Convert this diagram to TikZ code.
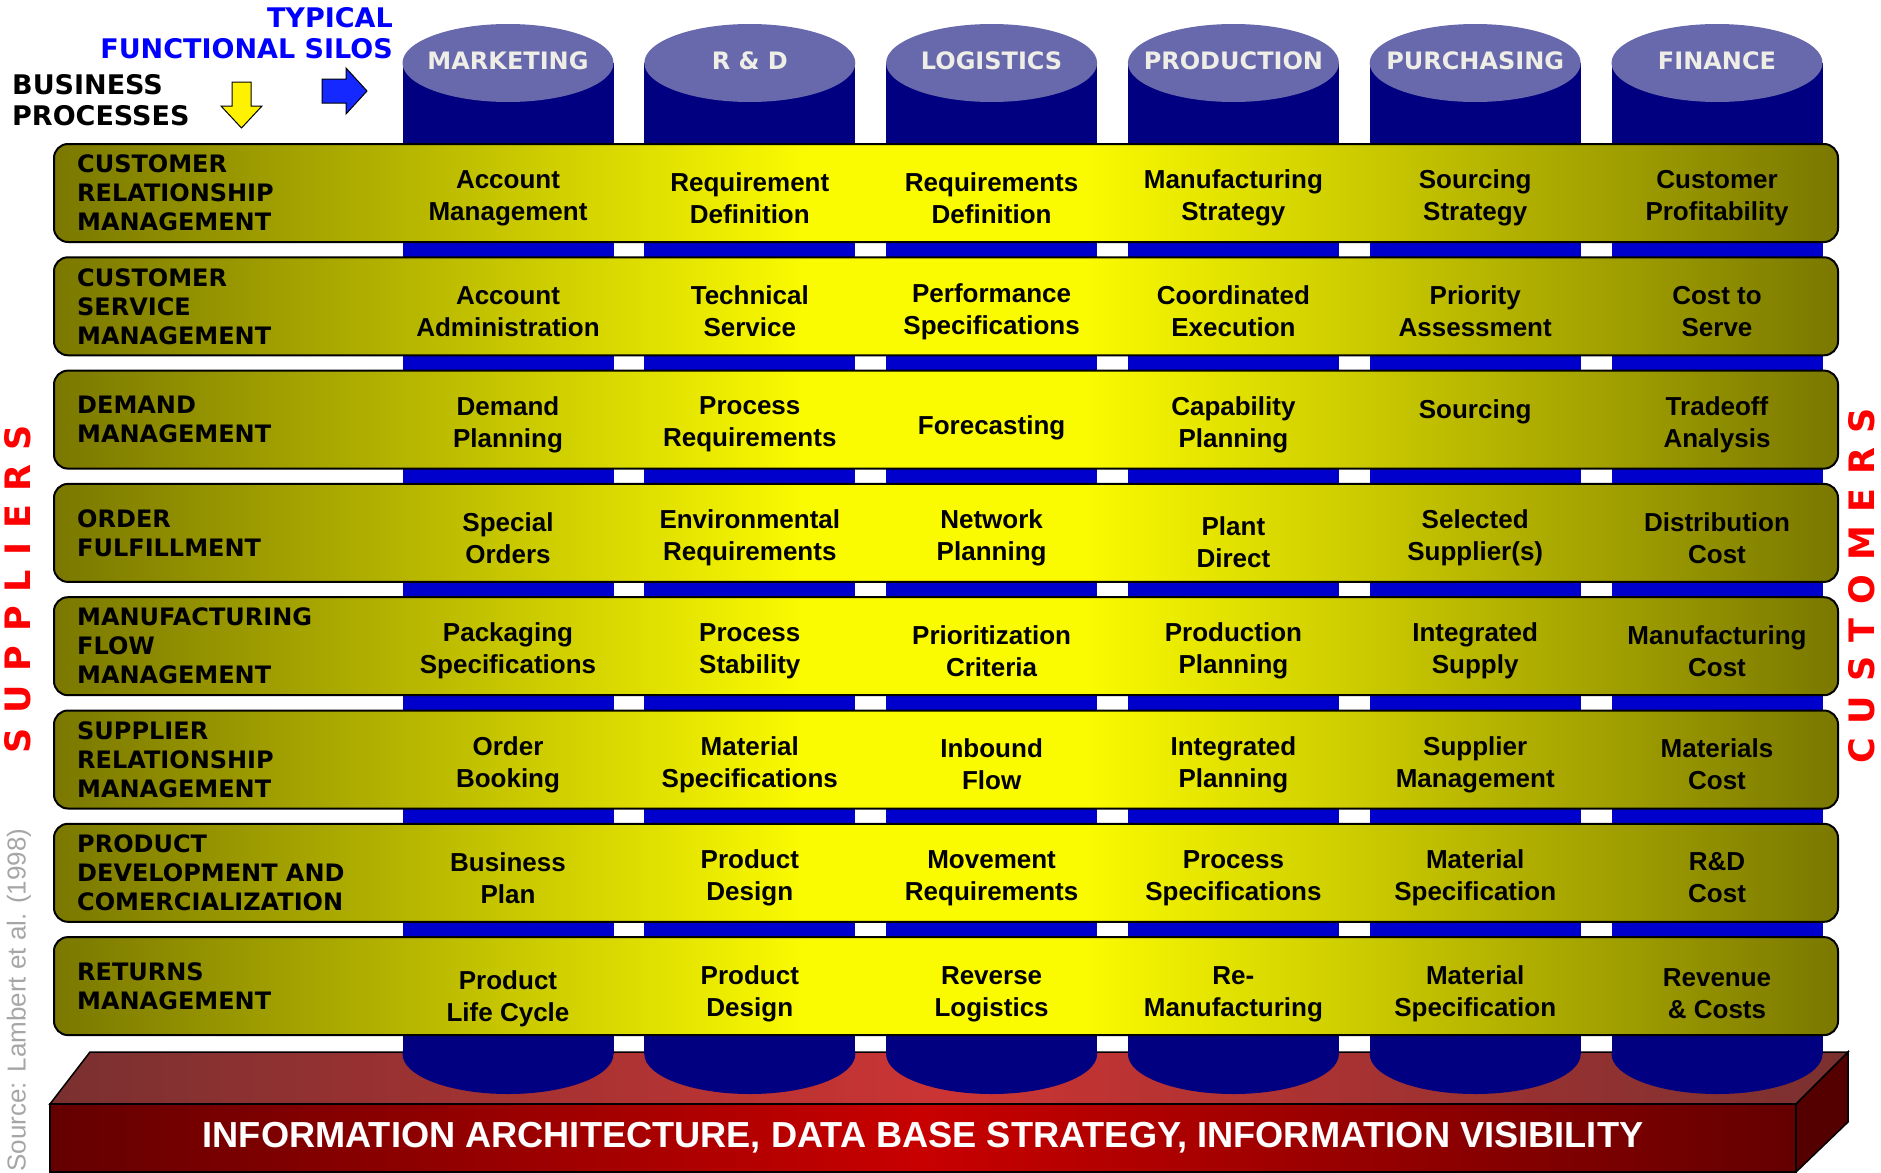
\documentclass[tikz,border=0pt]{standalone}
\usepackage{fontspec}
\setmainfont{Liberation Sans}
\newfontfamily\heavyfont{DejaVu Sans}
\usepackage{tikz}
\usetikzlibrary{positioning}
\definecolor{silonavy}{RGB}{0,0,128}
\definecolor{gapblue}{RGB}{0,0,204}
\definecolor{silotop}{RGB}{104,104,172}
\definecolor{siloink}{RGB}{238,238,230}
\definecolor{bandolive}{RGB}{122,120,0}
\definecolor{bandyellow}{RGB}{250,250,0}
\definecolor{slabdark}{RGB}{100,0,0}
\definecolor{slablight}{RGB}{200,0,0}
\definecolor{slabtopdark}{RGB}{122,48,48}
\definecolor{slabtoplight}{RGB}{204,52,52}
\definecolor{slabside}{RGB}{85,0,0}
\definecolor{srcgray}{RGB}{166,166,166}
\definecolor{arrowblue}{RGB}{20,40,255}
\pgfdeclarehorizontalshading{bandshade}{100bp}{color(0bp)=(bandolive);
  color(25bp)=(bandolive); color(46bp)=(bandyellow); color(54bp)=(bandyellow);
  color(75bp)=(bandolive); color(100bp)=(bandolive)}
\pgfdeclarehorizontalshading{slabshade}{100bp}{color(0bp)=(slabdark);
  color(25bp)=(slabdark); color(50bp)=(slablight);
  color(75bp)=(slabdark); color(100bp)=(slabdark)}
\pgfdeclarehorizontalshading{slabtopshade}{100bp}{color(0bp)=(slabtopdark);
  color(25bp)=(slabtopdark); color(50bp)=(slabtoplight);
  color(75bp)=(slabtopdark); color(100bp)=(slabtopdark)}
\tikzset{
  silo_t/.style = {inner sep=0pt, text=siloink,
    font=\heavyfont\bfseries\fontsize{24}{29}\selectfont},% silo title
  band_n/.style = {draw=black, line width=2pt, rounded corners=14pt,
    minimum width=1784pt, minimum height=98pt, inner sep=0pt,
    shade, shading=bandshade},% bande de processus
  proc_t/.style = {inner sep=0pt, align=left,
    font=\heavyfont\bfseries\fontsize{24}{29}\selectfont},% nom du processus
  cell_t/.style = {inner sep=0pt, align=center, yshift=-5pt,
    font=\bfseries\fontsize{26}{32}\selectfont},% activite
  head_t/.style = {inner sep=0pt,
    font=\heavyfont\bfseries\fontsize{27}{31}\selectfont},
  side_t/.style = {inner sep=0pt, rotate=90, text=red,
    font=\heavyfont\bfseries\fontsize{35}{35}\selectfont},
  slab_t/.style = {inner sep=0pt, text=white,
    font=\bfseries\fontsize{36.2}{40}\selectfont}
}

\begin{document}
\begin{tikzpicture}[x=1pt,y=-1pt]
\useasboundingbox (0,0) rectangle (1881,1172);

% socle rouge
\filldraw[slabside, draw=black, line width=1.5pt]
  (1796,1104) -- (1848,1052) -- (1848,1122) -- (1796,1172) -- cycle;
\shadedraw[shading=slabtopshade, draw=black, line width=1.5pt]
  (50,1104) -- (90,1052) -- (1848,1052) -- (1796,1104) -- cycle;
\shadedraw[shading=slabshade, draw=black, line width=1.5pt]
  (50,1104) rectangle (1796,1172);

% silos
\foreach \x in {508,749.8,991.6,1233.4,1475.2,1717}{
  \fill[silonavy] (\x-105.5,63) rectangle (\x+105.5,1054);
  \fill[silonavy] (\x,1054) ellipse [x radius=105.5pt, y radius=40pt];
  \fill[gapblue] (\x-105.5,242) rectangle (\x+105.5,937);
  \fill[silotop] (\x,63) ellipse [x radius=105.5pt, y radius=39pt];
}
\node[silo_t] (mkt) at (508,61) {MARKETING};
\node[silo_t] (rnd) at (749.8,61) {R \& D};
\node[silo_t] (log) at (991.6,61) {LOGISTICS};
\node[silo_t] (prod) at (1233.4,61) {PRODUCTION};
\node[silo_t] (pur) at (1475.2,61) {PURCHASING};
\node[silo_t] (fin) at (1717,61) {FINANCE};

% bandes
\node[band_n] (crm) at (946,193) {};
\node[band_n] (csm) at (946,306.3) {};
\node[band_n] (dem) at (946,419.6) {};
\node[band_n] (ofl) at (946,532.9) {};
\node[band_n] (mfm) at (946,646.2) {};
\node[band_n] (srm) at (946,759.5) {};
\node[band_n] (pdc) at (946,872.8) {};
\node[band_n] (ret) at (946,986.1) {};

\node[proc_t, right=24pt of crm.west] (crm_t) {CUSTOMER\\RELATIONSHIP\\MANAGEMENT};
\node[proc_t, right=24pt of csm.west] (csm_t) {CUSTOMER\\SERVICE\\MANAGEMENT};
\node[proc_t, right=24pt of dem.west] (dem_t) {DEMAND\\MANAGEMENT};
\node[proc_t, right=24pt of ofl.west] (ofl_t) {ORDER\\FULFILLMENT};
\node[proc_t, right=24pt of mfm.west] (mfm_t) {MANUFACTURING\\FLOW\\MANAGEMENT};
\node[proc_t, right=24pt of srm.west] (srm_t) {SUPPLIER\\RELATIONSHIP\\MANAGEMENT};
\node[proc_t, right=24pt of pdc.west] (pdc_t) {PRODUCT\\DEVELOPMENT AND\\COMERCIALIZATION};
\node[proc_t, right=24pt of ret.west] (ret_t) {RETURNS\\MANAGEMENT};

% activites
\node[cell_t] (crm_mkt) at (mkt |- crm) {Account\\Management};
\node[cell_t] (crm_rnd) at (rnd |- crm) {Requirement\\Definition};
\node[cell_t] (crm_log) at (log |- crm) {Requirements\\Definition};
\node[cell_t] (crm_prod) at (prod |- crm) {Manufacturing\\Strategy};
\node[cell_t] (crm_pur) at (pur |- crm) {Sourcing\\Strategy};
\node[cell_t] (crm_fin) at (fin |- crm) {Customer\\Profitability};

\node[cell_t] (csm_mkt) at (mkt |- csm) {Account\\Administration};
\node[cell_t] (csm_rnd) at (rnd |- csm) {Technical\\Service};
\node[cell_t] (csm_log) at (log |- csm) {Performance\\Specifications};
\node[cell_t] (csm_prod) at (prod |- csm) {Coordinated\\Execution};
\node[cell_t] (csm_pur) at (pur |- csm) {Priority\\Assessment};
\node[cell_t] (csm_fin) at (fin |- csm) {Cost to\\Serve};

\node[cell_t] (dem_mkt) at (mkt |- dem) {Demand\\Planning};
\node[cell_t] (dem_rnd) at (rnd |- dem) {Process\\Requirements};
\node[cell_t, yshift=-3pt] (dem_log) at (log |- dem) {Forecasting};
\node[cell_t] (dem_prod) at (prod |- dem) {Capability\\Planning};
\node[cell_t, yshift=13pt] (dem_pur) at (pur |- dem) {Sourcing};
\node[cell_t] (dem_fin) at (fin |- dem) {Tradeoff\\Analysis};

\node[cell_t] (ofl_mkt) at (mkt |- ofl) {Special\\Orders};
\node[cell_t] (ofl_rnd) at (rnd |- ofl) {Environmental\\Requirements};
\node[cell_t] (ofl_log) at (log |- ofl) {Network\\Planning};
\node[cell_t, yshift=-4pt] (ofl_prod) at (prod |- ofl) {Plant\\Direct};
\node[cell_t] (ofl_pur) at (pur |- ofl) {Selected\\Supplier(s)};
\node[cell_t] (ofl_fin) at (fin |- ofl) {Distribution\\Cost};

\node[cell_t] (mfm_mkt) at (mkt |- mfm) {Packaging\\Specifications};
\node[cell_t] (mfm_rnd) at (rnd |- mfm) {Process\\Stability};
\node[cell_t] (mfm_log) at (log |- mfm) {Prioritization\\Criteria};
\node[cell_t] (mfm_prod) at (prod |- mfm) {Production\\Planning};
\node[cell_t] (mfm_pur) at (pur |- mfm) {Integrated\\Supply};
\node[cell_t] (mfm_fin) at (fin |- mfm) {Manufacturing\\Cost};

\node[cell_t] (srm_mkt) at (mkt |- srm) {Order\\Booking};
\node[cell_t] (srm_rnd) at (rnd |- srm) {Material\\Specifications};
\node[cell_t] (srm_log) at (log |- srm) {Inbound\\Flow};
\node[cell_t] (srm_prod) at (prod |- srm) {Integrated\\Planning};
\node[cell_t] (srm_pur) at (pur |- srm) {Supplier\\Management};
\node[cell_t] (srm_fin) at (fin |- srm) {Materials\\Cost};

\node[cell_t] (pdc_mkt) at (mkt |- pdc) {Business\\Plan};
\node[cell_t] (pdc_rnd) at (rnd |- pdc) {Product\\Design};
\node[cell_t] (pdc_log) at (log |- pdc) {Movement\\Requirements};
\node[cell_t] (pdc_prod) at (prod |- pdc) {Process\\Specifications};
\node[cell_t] (pdc_pur) at (pur |- pdc) {Material\\Specification};
\node[cell_t] (pdc_fin) at (fin |- pdc) {R\&D\\Cost};

\node[cell_t, yshift=-7.5pt] (ret_mkt) at (mkt |- ret) {Product\\Life Cycle};
\node[cell_t, yshift=-3pt] (ret_rnd) at (rnd |- ret) {Product\\Design};
\node[cell_t, yshift=-3pt] (ret_log) at (log |- ret) {Reverse\\Logistics};
\node[cell_t, yshift=-3pt] (ret_prod) at (prod |- ret) {Re-\\Manufacturing};
\node[cell_t, yshift=-3pt] (ret_pur) at (pur |- ret) {Material\\Specification};
\node[cell_t, yshift=-3pt] (ret_fin) at (fin |- ret) {Revenue\\\& Costs};

\node[slab_t] (info) at (923,1138)
  {INFORMATION ARCHITECTURE, DATA BASE STRATEGY, INFORMATION VISIBILITY};

% titres et fleches
\node[head_t, text=blue, anchor=east, align=right] (silos) at (393,33.5)
  {TYPICAL\\FUNCTIONAL SILOS};
\node[head_t, anchor=west, align=left] (procs) at (12,100.5)
  {BUSINESS\\PROCESSES};
\filldraw[fill=yellow, draw=black, line width=1pt]
  (232,82) -- (251,82) -- (251,106) -- (262,106) -- (241.5,128)
  -- (221,106) -- (232,106) -- cycle;
\filldraw[fill=arrowblue, draw=black, line width=1pt]
  (322,79) -- (346,79) -- (346,68) -- (367,91) -- (346,114)
  -- (346,103) -- (322,103) -- cycle;

\node[side_t] (sup) at (18,589)
  {S\kern14pt U\kern14pt P\kern14pt P\kern14pt L\kern14pt I\kern14pt E\kern14pt R\kern14pt S};
\node[side_t] (cus) at (1862,586)
  {C\kern14pt U\kern14pt S\kern14pt T\kern14pt O\kern14pt M\kern14pt E\kern14pt R\kern14pt S};
\node[inner sep=0pt, rotate=90, text=srcgray, font=\fontsize{26}{30}\selectfont]
  (src) at (19,1000) {Source: Lambert et al. (1998)};
\end{tikzpicture}
\end{document}
